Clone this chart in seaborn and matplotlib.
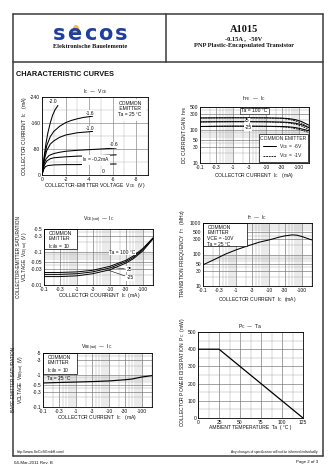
import numpy as np
import matplotlib
matplotlib.use("Agg")
import matplotlib.pyplot as plt
from matplotlib.lines import Line2D
from matplotlib.patches import Rectangle, Circle
from matplotlib.ticker import FixedLocator, NullFormatter, LogLocator, MultipleLocator
import seaborn as sns

sns.set_style("white")
plt.rcParams["font.family"] = ["Liberation Sans", "DejaVu Sans"]
plt.rcParams["mathtext.default"] = "regular"

# ---------------- data (PNP device: magnitudes plotted, axes labelled negative) ----------------
# Ic - Vce output family, one curve per base current
vce_ib20 = [0, 0.1, 0.2, 0.35, 0.5, 0.7, 0.9, 1.1, 1.35]
ic_ib20 = [0, 30, 62, 100, 130, 160, 184, 200, 214]
vce_ib16 = [0, 0.1, 0.2, 0.4, 0.7, 1.0, 1.5, 2.0, 2.5, 3.0, 3.5, 4.3]
ic_ib16 = [0, 28, 55, 90, 118, 134, 150, 161, 168, 173, 177, 181]
vce_ib10 = [0, 0.1, 0.2, 0.4, 0.7, 1.0, 1.5, 2.0, 3.0, 4.3]
ic_ib10 = [0, 25, 48, 75, 95, 105, 116, 123, 130, 134]
vce_ib06 = [0, 0.1, 0.2, 0.35, 0.6, 1.0, 1.5, 2.0, 3.0, 4.0, 5.0, 6.3]
ic_ib06 = [0, 20, 38, 50, 60, 66, 70, 73, 76, 78, 80, 83]
vce_ib04 = [0, 0.1, 0.2, 0.4, 0.7, 1.0, 2.0, 3.0, 4.0, 5.0, 6.3]
ic_ib04 = [0, 15, 30, 43, 50, 53, 56, 58, 59, 60, 62]
vce_ib02 = [0, 0.08, 0.15, 0.3, 0.5, 1.0, 2.0, 3.0, 4.0, 5.0, 6.3]
ic_ib02 = [0, 10, 18, 26, 29, 31, 32, 32, 33, 33, 34]
vce_ticks = [0, 2, 4, 6, 8]
vce_ticklabels = ["0", "-2", "-4", "-6", "-8"]
ic_lin_ticks = [0, 80, 160, 240]
ic_lin_ticklabels = ["0", "-80", "-160", "-240"]

# collector-current axis shared by the log plots
ic_ticks = [0.1, 0.3, 1, 3, 10, 30, 100]
ic_ticklabels = ["-0.1", "-0.3", "-1", "-3", "-10", "-30", "-100"]

# hFE - Ic
hfe_ic = [0.1, 0.3, 1, 3, 10, 30, 50, 80, 120, 200]
hfe_100_6v = [232, 234, 235, 235, 234, 230, 222, 205, 180, 140]
hfe_100_1v = [232, 234, 235, 235, 233, 226, 212, 188, 160, 120]
hfe_25_6v = [176, 178, 179, 179, 178, 175, 170, 160, 145, 118]
hfe_25_1v = [176, 178, 179, 179, 177, 171, 163, 150, 132, 104]
hfe_m25_6v = [128, 130, 131, 131, 130, 128, 125, 118, 108, 95]
hfe_m25_1v = [128, 130, 131, 131, 129, 125, 120, 110, 99, 84]
hfe_ticks = [10, 30, 50, 100, 300, 500]

# Vce(sat) - Ic
sat_ic = [0.1, 0.3, 1, 3, 10, 30, 50, 100, 200]
vcesat_100 = [0.024, 0.024, 0.025, 0.028, 0.037, 0.056, 0.075, 0.13, 0.27]
vcesat_25 = [0.021, 0.021, 0.022, 0.025, 0.033, 0.051, 0.068, 0.12, 0.26]
vcesat_m25 = [0.018, 0.018, 0.019, 0.022, 0.029, 0.046, 0.062, 0.11, 0.25]
vcesat_ticks = [0.01, 0.03, 0.05, 0.1, 0.3, 0.5]
vcesat_ticklabels = ["-0.01", "-0.03", "-0.05", "-0.1", "-0.3", "-0.5"]

# fT - Ic
ft_ic = [0.1, 0.2, 0.5, 1, 2, 5, 10, 20, 30, 50, 70, 100, 150, 200]
ft_mhz = [47, 66, 105, 140, 180, 245, 290, 355, 390, 420, 410, 370, 320, 290]
ft_ticks = [10, 30, 50, 100, 300, 500, 1000]

# Vbe(sat) - Ic
vbe_ic = [0.1, 0.3, 1, 3, 10, 30, 50, 100, 200]
vbesat = [0.57, 0.59, 0.61, 0.63, 0.66, 0.72, 0.76, 0.88, 0.97]
vbe_ticks = [0.1, 0.3, 0.5, 1, 3, 5]
vbe_ticklabels = ["-0.1", "-0.3", "-0.5", "-1", "-3", "-5"]

# Pc - Ta derating
ta_c = [0, 25, 125]
pc_mw = [400, 400, 0]
ta_ticks = [0, 25, 50, 75, 100, 125]
pc_ticks = [0, 100, 200, 300, 400, 500]

# ---------------- figure ----------------
W, H = 336, 475
fig = plt.figure(figsize=(W / 100, H / 100), dpi=100)
FS = 3.6
INK = "#111111"


def px_axes(x0, y0, x1, y1):
    return fig.add_axes([x0 / W, 1 - y1 / H, (x1 - x0) / W, (y1 - y0) / H])


def ftext(x, y, s, **kw):
    kw.setdefault("fontsize", FS)
    kw.setdefault("ha", "center")
    kw.setdefault("va", "center")
    kw.setdefault("color", INK)
    return fig.text(x / W, 1 - y / H, s, **kw)


def fline(x0, y0, x1, y1, lw=1.1, color="#3a3a3a"):
    fig.add_artist(Line2D([x0 / W, x1 / W], [1 - y0 / H, 1 - y1 / H],
                          transform=fig.transFigure, lw=lw, color=color))


def style(ax):
    for s in ax.spines.values():
        s.set_linewidth(0.6)
        s.set_color("black")
        s.set_zorder(5)
    ax.tick_params(which="major", direction="in", length=1.2, width=0.4,
                   labelsize=FS, pad=1.2, colors=INK)
    ax.tick_params(which="minor", length=0)
    ax.set_xlabel("")
    ax.set_ylabel("")


def log_grid(ax):
    ax.grid(which="minor", color="#a0a0a0", lw=0.3)
    ax.grid(which="major", color="#707070", lw=0.45)


def log_ic_axis(ax):
    ax.set_xscale("log")
    ax.set_xlim(0.1, 200)
    ax.xaxis.set_major_locator(FixedLocator(ic_ticks))
    ax.set_xticklabels(ic_ticklabels)
    ax.xaxis.set_minor_locator(LogLocator(base=10, subs=np.arange(2, 10)))
    ax.xaxis.set_minor_formatter(NullFormatter())


def log_y(ax, lo, hi, ticks, labels):
    ax.set_yscale("log")
    ax.set_ylim(lo, hi)
    ax.yaxis.set_major_locator(FixedLocator(ticks))
    ax.set_yticklabels(labels)
    ax.yaxis.set_minor_locator(LogLocator(base=10, subs=np.arange(2, 10)))
    ax.yaxis.set_minor_formatter(NullFormatter())


def note_box(ax, x0, y0, x1, y1, text, tx, ty, border=True):
    ax.add_patch(Rectangle((x0, y0), x1 - x0, y1 - y0, transform=ax.transAxes,
                           facecolor="white", edgecolor="black" if border else "white",
                           lw=0.5, zorder=3))
    ax.text(tx, ty, text, transform=ax.transAxes, fontsize=FS, color=INK,
            ha="left", va="top", linespacing=1.15, zorder=4)


def curve(ax, x, y, lw=0.75, **kw):
    sns.lineplot(x=x, y=y, ax=ax, color="black", linewidth=lw, sort=False,
                 legend=False, zorder=2, **kw)


# ---------------- page frame and header ----------------
fline(13, 14, 323, 14)
fline(13, 62, 323, 62)
fline(166, 14, 166, 62)
fline(13, 14, 13, 456)
fline(323, 14, 323, 456)
fline(13, 456, 323, 456)

fig.add_artist(Circle((76 / W, 1 - 29.5 / H), 3.2 / W, transform=fig.transFigure,
                      facecolor="#f2c12e", edgecolor="none", zorder=1))
for i, ch in enumerate("secos"):
    ftext(59 + i * 15.5, 34, ch, fontsize=15, fontweight="bold", color="#1f3f9e",
          family=["DejaVu Sans"], zorder=2)
ftext(90, 47, "Elektronische Bauelemente", fontsize=4.6, fontweight="bold",
      family=["Liberation Serif"])
ftext(244, 30, "A1015", fontsize=7.5, fontweight="bold", family=["Liberation Serif"])
ftext(244, 39, "-0.15A ,  -50V", fontsize=4.6, fontweight="bold", family=["Liberation Serif"])
ftext(244, 46, "PNP Plastic-Encapsulated Transistor", fontsize=4.6, fontweight="bold",
      family=["Liberation Serif"])

ftext(16, 74.5, "CHARACTERISTIC CURVES", fontsize=5.3, fontweight="bold", ha="left")

# footer
ftext(17, 452, "http://www.SeCoSGmbH.com/", fontsize=2.6, ha="left")
ftext(318, 452, "Any changes of specification will not be informed individually.",
      fontsize=2.3, ha="right")
ftext(14, 462.5, "04-Mar-2011 Rev. B", fontsize=3.2, ha="left")
ftext(318, 462.5, "Page 2 of 3", fontsize=3.2, ha="right")

# ---------------- Ic - Vce ----------------
ax1 = px_axes(42, 97, 148, 175)
for vx, iy in [(vce_ib20, ic_ib20), (vce_ib16, ic_ib16), (vce_ib10, ic_ib10),
               (vce_ib06, ic_ib06), (vce_ib04, ic_ib04), (vce_ib02, ic_ib02)]:
    curve(ax1, vx, iy)
style(ax1)
ax1.set_xlim(0, 9)
ax1.set_ylim(0, 240)
ax1.set_xticks(vce_ticks)
ax1.set_xticklabels(vce_ticklabels)
ax1.set_yticks(ic_lin_ticks)
ax1.set_yticklabels(ic_lin_ticklabels)
ax1.xaxis.set_minor_locator(MultipleLocator(1))
ax1.yaxis.set_minor_locator(MultipleLocator(40))
ax1.grid(which="major", color="#808080", lw=0.45)
ax1.grid(which="minor", color="#b0b0b0", lw=0.3)
note_box(ax1, 0.69, 0.70, 0.97, 0.97, "COMMON\n EMITTER\nTa = 25 °C", 0.72, 0.95, border=False)
for tx, ty, s in [(0.9, 225, "-2.0"), (4.05, 190, "-1.6"), (4.05, 143, "-1.0"),
                  (6.1, 93, "-0.6"), (4.6, 47, "I$_B$ = -0.2mA"), (5.2, 10, "0")]:
    ax1.text(tx, ty, s, fontsize=FS, ha="center", va="center", color=INK, zorder=4,
             bbox=dict(facecolor="white", edgecolor="none", pad=0.3))
ftext(95, 92, "I$_C$  —  V$_{CE}$")
ftext(25, 136, "COLLECTOR CURRENT  I$_C$   (mA)", rotation=90)
ftext(95, 186, "COLLECTOR-EMITTER VOLTAGE  V$_{CE}$  (V)")

# ---------------- hFE - Ic ----------------
ax2 = px_axes(200, 107, 309, 163)
dash = (0, (2.2, 1.0))
for y6, y1 in [(hfe_100_6v, hfe_100_1v), (hfe_25_6v, hfe_25_1v), (hfe_m25_6v, hfe_m25_1v)]:
    curve(ax2, hfe_ic, y6, lw=0.75)
    curve(ax2, hfe_ic, y1, lw=0.6, linestyle=dash)
style(ax2)
log_ic_axis(ax2)
log_y(ax2, 10, 500, hfe_ticks, [str(t) for t in hfe_ticks])
log_grid(ax2)
ax2.text(0.50, 0.93, "Ta = 100 °C", transform=ax2.transAxes, fontsize=FS, ha="center",
         va="center", color=INK, zorder=4,
         bbox=dict(facecolor="white", edgecolor="black", lw=0.4, pad=0.6))
ax2.text(0.43, 0.76, "25", transform=ax2.transAxes, fontsize=FS, ha="center", va="center",
         color=INK, zorder=4, bbox=dict(facecolor="white", edgecolor="none", pad=0.3))
ax2.text(0.44, 0.63, "-25", transform=ax2.transAxes, fontsize=FS, ha="center", va="center",
         color=INK, zorder=4, bbox=dict(facecolor="white", edgecolor="none", pad=0.3))
handles = [Line2D([], [], color="black", lw=0.75), Line2D([], [], color="black", lw=0.6, ls=dash)]
leg = ax2.legend(handles, ["V$_{CE}$ = -6V", "V$_{CE}$ = -1V"], title="COMMON EMITTER",
                 loc="lower right", fontsize=FS, title_fontsize=FS, frameon=True,
                 fancybox=False, edgecolor="black", framealpha=1, borderpad=0.3,
                 handlelength=2.6, labelspacing=0.15, borderaxespad=0.25,
                 handletextpad=0.5)
leg.get_frame().set_linewidth(0.5)
leg.set_zorder(6)
ftext(254, 99, "h$_{FE}$  —  I$_C$")
ftext(185, 135, "DC CURRENT GAIN  h$_{FE}$", rotation=90)
ftext(254, 175, "COLLECTOR CURRENT  I$_C$   (mA)")

# ---------------- Vce(sat) - Ic ----------------
ax3 = px_axes(44, 229, 153, 285)
for yv in [vcesat_100, vcesat_25, vcesat_m25]:
    curve(ax3, sat_ic, yv, lw=0.7)
style(ax3)
log_ic_axis(ax3)
log_y(ax3, 0.01, 0.5, vcesat_ticks, vcesat_ticklabels)
log_grid(ax3)
note_box(ax3, 0.0, 0.64, 0.30, 1.0, "COMMON\nEMITTER\nI$_C$/I$_B$ = 10", 0.04, 0.97)
ax3.text(0.72, 0.58, "Ta = 100 °C", transform=ax3.transAxes, fontsize=FS, ha="center",
         va="center", color=INK, zorder=4, bbox=dict(facecolor="white", edgecolor="none", pad=0.3))
ax3.annotate("25", xy=(12, 0.034), xytext=(0.78, 0.28), textcoords="axes fraction",
             fontsize=FS, ha="center", va="center", color=INK, zorder=4,
             bbox=dict(facecolor="white", edgecolor="none", pad=0.3),
             arrowprops=dict(arrowstyle="-", lw=0.4, color="black", shrinkA=1, shrinkB=0))
ax3.annotate("-25", xy=(9, 0.028), xytext=(0.79, 0.13), textcoords="axes fraction",
             fontsize=FS, ha="center", va="center", color=INK, zorder=4,
             bbox=dict(facecolor="white", edgecolor="none", pad=0.3),
             arrowprops=dict(arrowstyle="-", lw=0.4, color="black", shrinkA=1, shrinkB=0))
ftext(99, 220, "V$_{CE(sat)}$  —  I$_C$")
ftext(18.5, 257, "COLLECTOR-EMITTER SATURATION", rotation=90, fontsize=3.4)
ftext(26, 257, "VOLTAGE  V$_{CE(sat)}$  (V)", rotation=90, fontsize=3.4)
ftext(99, 296, "COLLECTOR COURRENT  I$_C$  (mA)")

# ---------------- fT - Ic ----------------
ax4 = px_axes(203, 223, 312, 286)
curve(ax4, ft_ic, ft_mhz, lw=0.75)
style(ax4)
log_ic_axis(ax4)
log_y(ax4, 10, 1000, ft_ticks, [str(t) for t in ft_ticks])
log_grid(ax4)
note_box(ax4, 0.0, 0.63, 0.40, 1.0, "COMMON\nEMITTER\nVCE = -10V\nTa = 25 °C", 0.04, 0.97)
ftext(257, 218, "f$_T$  —  I$_C$")
ftext(183, 253, "TRANSITION FREQUENCY  f$_T$   (MHz)", rotation=90)
ftext(257, 299, "COLLECTOR CURRENT  I$_C$  (mA)")

# ---------------- Vbe(sat) - Ic ----------------
ax5 = px_axes(43, 353, 152, 407)
curve(ax5, vbe_ic, vbesat, lw=0.85)
style(ax5)
log_ic_axis(ax5)
log_y(ax5, 0.1, 5, vbe_ticks, vbe_ticklabels)
log_grid(ax5)
note_box(ax5, 0.0, 0.62, 0.31, 1.0, "COMMON\nEMITTER\nI$_C$/I$_B$ = 10\nTa = 25 °C", 0.04, 0.97)
ftext(97, 348, "V$_{BE(sat)}$  —  I$_C$")
ftext(14, 380, "BASE-EMITTER SATURATION", rotation=90, fontsize=3.3)
ftext(22, 380, "VOLTAGE  V$_{BE(sat)}$  (V)", rotation=90, fontsize=3.3)
ftext(97, 418, "COLLECTOR CURRENT  I$_C$   (mA)")

# ---------------- Pc - Ta ----------------
ax6 = px_axes(198, 332, 303, 418)
curve(ax6, ta_c, pc_mw, lw=0.9)
style(ax6)
ax6.set_xlim(0, 125)
ax6.set_ylim(0, 500)
ax6.set_xticks(ta_ticks)
ax6.set_yticks(pc_ticks)
ax6.set_xticklabels([str(t) for t in ta_ticks])
ax6.set_yticklabels([str(t) for t in pc_ticks])
ax6.xaxis.set_minor_locator(MultipleLocator(12.5))
ax6.yaxis.set_minor_locator(MultipleLocator(50))
ax6.grid(which="major", color="#707070", lw=0.45)
ax6.grid(which="minor", color="#a0a0a0", lw=0.3)
ftext(250, 327, "P$_C$  —  Ta")
ftext(183, 372, "COLLECTOR POWER DISSIPATION  P$_C$  (mW)", rotation=90)
ftext(250, 428, "AMBIENT TEMPERATURE  Ta  ( °C )")

fig.savefig("out.png", dpi=100, facecolor="white")
